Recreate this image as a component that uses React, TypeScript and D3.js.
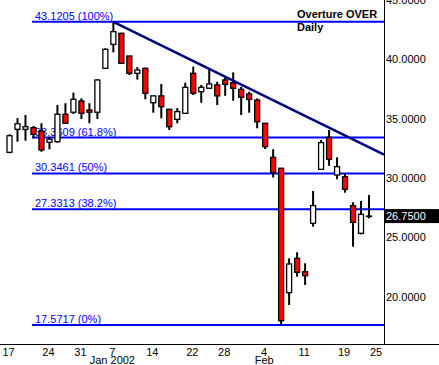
import React from "react";
import * as d3 from "d3";

// Overture (OVER) daily candles, Dec 17 2001 .. Feb 22 2002 (trading days)
const opens = [32.12, 34.06, 34.06, 34.2, 33.92, 32.97, 33.02, 35.33, 35.5, 36.45,
  35.69, 35.5, 39.2, 41.22, 42.15, 40.24, 38.78, 39.2, 36.3, 36.88,
  35.75, 34.9, 35.41, 38.78, 37.23, 37.52, 37.8, 38.22, 37.99, 37.43,
  37.04, 36.53, 34.57, 31.7, 30.78, 20.3, 23.19, 22.06, 26.14, 30.69,
  33.39, 30.21, 30.07, 27.63, 25.3, 26.75];
const highs = [33.64, 35.0, 35.27, 34.34, 34.57, 33.44, 36.11, 36.26, 37.15, 36.67,
  36.26, 38.28, 40.89, 43.1205, 42.2, 40.24, 39.3, 39.25, 36.88, 37.88,
  35.75, 35.85, 37.99, 39.34, 37.8, 39.06, 38.07, 38.5, 38.86, 37.65,
  37.23, 36.67, 34.57, 32.38, 30.78, 23.19, 23.7, 22.77, 28.86, 33.16,
  34.0, 31.7, 30.35, 27.91, 28.02, 28.53];
const lows = [32.04, 33.02, 33.1, 33.3, 32.17, 32.38, 32.93, 34.51, 35.35, 34.93,
  34.57, 34.93, 39.14, 40.55, 39.62, 38.64, 38.25, 36.59, 35.46, 34.99,
  34.0, 34.57, 35.41, 36.95, 36.3, 37.52, 36.11, 36.88, 36.47, 35.27,
  35.46, 34.15, 32.4, 30.0, 17.5717, 19.26, 21.64, 20.95, 25.86, 30.69,
  30.99, 29.85, 28.72, 24.17, 25.2, 26.56];
const closes = [33.52, 34.53, 34.28, 33.64, 32.32, 33.22, 35.33, 34.57, 36.59, 35.41,
  35.5, 38.22, 40.8, 42.29, 39.62, 38.78, 39.06, 37.1, 36.88, 35.97,
  34.28, 35.55, 37.6, 37.1, 37.6, 37.88, 36.88, 37.85, 37.52, 36.76,
  36.59, 34.7, 32.6, 30.4, 17.93, 22.71, 22.01, 21.73, 27.63, 32.94,
  31.53, 30.91, 29.01, 26.22, 26.9, 26.75];

// x axis labels (trading-day index -> label)
const tickDays = [0, 5, 9, 13, 18, 23, 27, 32, 37, 42, 46];
const tickLabels = ["17", "24", "31", "7", "14", "22", "28", "4", "11", "19", "25"];
const monthDays = [13, 32];
const monthLabels = ["Jan 2002", "Feb"];

const priceTicks = [20, 25, 30, 35, 40, 45];

// Fibonacci retracement levels
const fibValues = [43.1205, 33.3609, 30.3461, 27.3313, 17.5717];
const fibLabels = ["100%", "61.8%", "50%", "38.2%", "0%"];

// downtrend line: starts at the Jan 7 high
const trendStart = { day: 13, price: 43.1205 };
const trendSlope = -0.3305; // price per trading day

const W = 439;
const H = 365;
const plotRight = 384;
const axisY = 344;
const font = "'Liberation Sans', Arial, sans-serif";

export default function App() {
  const x = d3.scaleLinear().domain([0, 46]).range([9.5, 377]);
  const y = d3.scaleLinear().domain([17.5717, 43.1205]).range([325, 21.8]);
  const fmt = d3.format(".4f");

  const candles = d3.range(closes.length).map(i => ({
    i, o: opens[i], h: highs[i], l: lows[i], c: closes[i],
  }));

  const trendEndDay = x.invert(plotRight);
  const trendLine = d3.line<[number, number]>()
    .x(d => x(d[0]))
    .y(d => y(d[1]));
  const trendPts: [number, number][] = [
    [trendStart.day, trendStart.price],
    [trendEndDay, trendStart.price + trendSlope * (trendEndDay - trendStart.day)],
  ];

  const last = closes[closes.length - 1];
  const bodyW = 5;

  return (
    <svg width={W} height={H} style={{ position: "fixed", left: 0, top: 0, background: "#fff" }}
      fontFamily={font} fontSize={11}>
      <rect width={W} height={H} fill="#fff" />

      {/* fib lines + labels */}
      {fibValues.map((v, k) => (
        <g key={k}>
          <line x1={32} x2={plotRight} y1={y(v)} y2={y(v)} stroke="#0000ff" strokeWidth={2} />
          <text x={35} y={y(v) - 2} fill="#0000ff">{`${fmt(v)} (${fibLabels[k]})`}</text>
        </g>
      ))}

      {/* candles */}
      {candles.map(d => {
        const cx = x(d.i);
        const top = y(Math.max(d.o, d.c));
        const bot = y(Math.min(d.o, d.c));
        const up = d.c >= d.o;
        return (
          <g key={d.i}>
            <line x1={cx} x2={cx} y1={y(d.h)} y2={y(d.l)} stroke="#000" strokeWidth={2} />
            <rect x={cx - bodyW / 2} y={top} width={bodyW} height={Math.max(bot - top, 0.5)}
              fill={up ? "#fff" : "#ff0000"} stroke="#000" strokeWidth={1.3} />
          </g>
        );
      })}

      <path d={trendLine(trendPts) || ""} stroke="#000080" strokeWidth={2.5} fill="none" />

      {/* axes */}
      <line x1={plotRight + 0.5} x2={plotRight + 0.5} y1={0} y2={axisY} stroke="#000" />
      <line x1={0} x2={W} y1={axisY + 0.5} y2={axisY + 0.5} stroke="#000" />

      {priceTicks.map(t => (
        <text key={t} x={386} y={y(t) + 4.5} fill="#000">{fmt(t)}</text>
      ))}

      {tickDays.map((dIdx, k) => (
        <text key={dIdx} x={x(dIdx) - 1} y={355.5} textAnchor="middle" fill="#000">{tickLabels[k]}</text>
      ))}
      {monthDays.map((dIdx, k) => (
        <text key={dIdx} x={x(dIdx) - 1} y={363.5} textAnchor="middle" fill="#000">{monthLabels[k]}</text>
      ))}

      {/* last price */}
      <rect x={plotRight} y={y(last) - 7} width={W - plotRight} height={14} fill="#000" />
      <text x={386} y={y(last) + 4} fill="#fff">{fmt(last)}</text>

      {/* title */}
      <text x={297} y={17.5} fontWeight="bold" fill="#000">Overture OVER</text>
      <text x={297} y={30.5} fontWeight="bold" fill="#000">Daily</text>
    </svg>
  );
}
